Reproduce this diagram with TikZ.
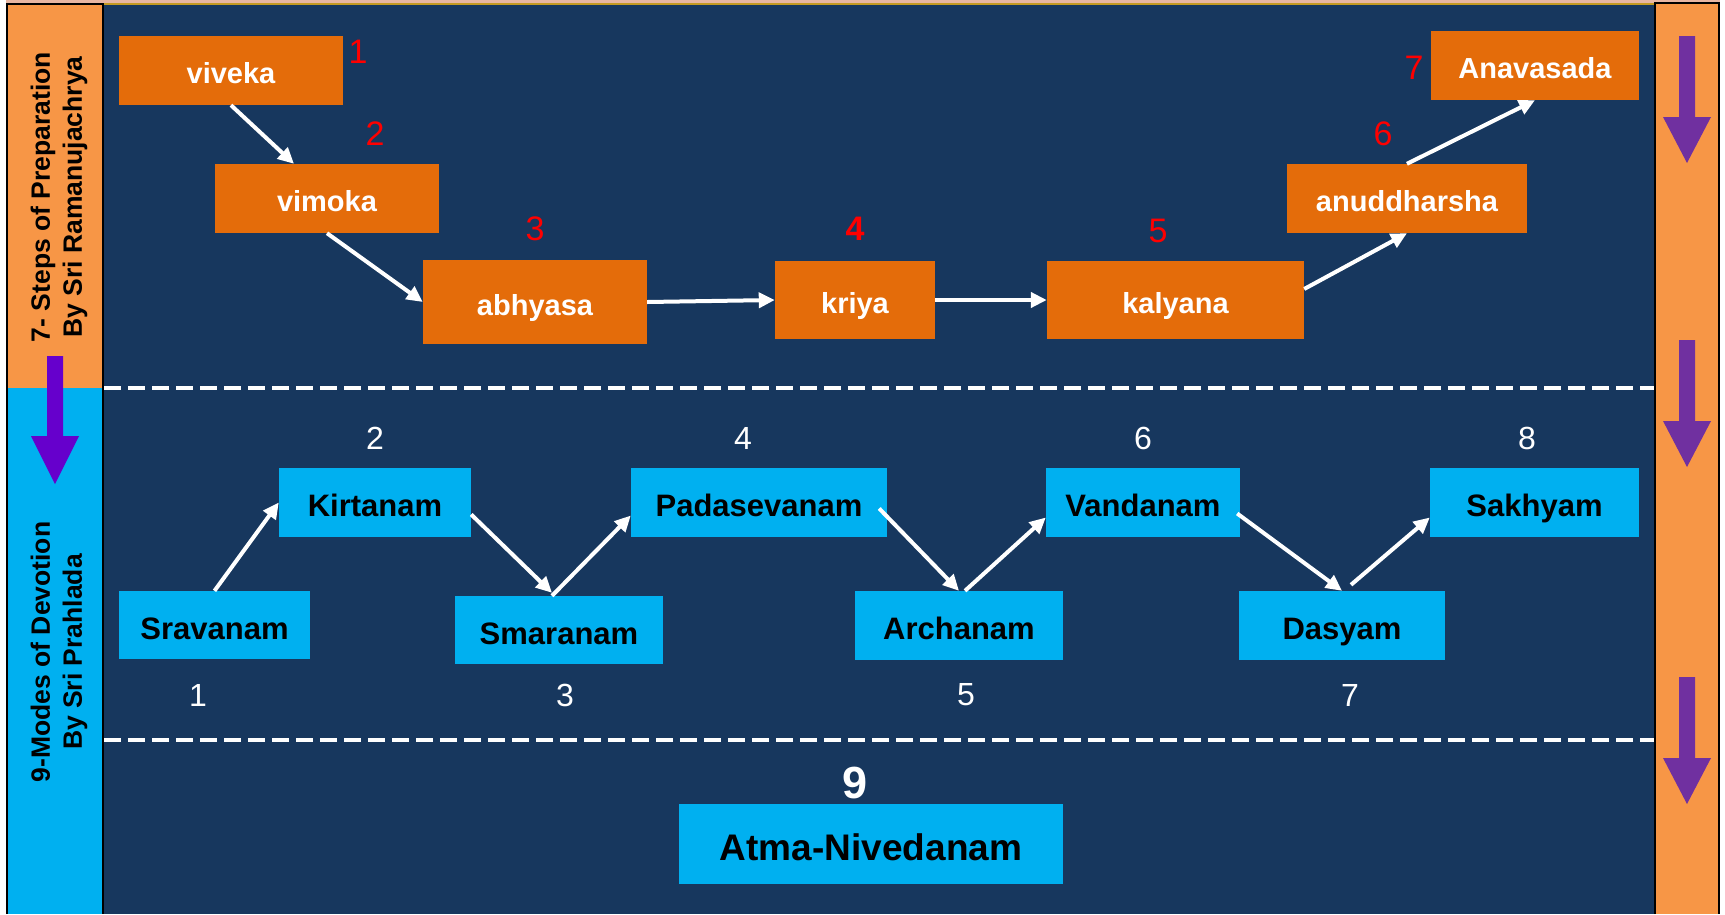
\documentclass[tikz,border=0pt]{standalone}
\usepackage{fontspec}
\setmainfont{Liberation Sans}
\usetikzlibrary{arrows.meta,calc}
\definecolor{navy}{HTML}{17375E}
\definecolor{boxorange}{HTML}{E46C0A}
\definecolor{panelorange}{HTML}{F79646}
\definecolor{panelblue}{HTML}{00B0F0}
\definecolor{rpurple}{HTML}{7030A0}
\definecolor{lpurple}{HTML}{6600CC}
\definecolor{toppink}{HTML}{E8B6A2}
\definecolor{goldline}{HTML}{C49A22}
\definecolor{numred}{HTML}{FF0000}
\begin{document}
\begin{tikzpicture}[x=1pt,y=-1pt,
  obox/.style={fill=boxorange, draw=none, inner sep=0pt, text=white,
    font=\fontsize{29}{34}\selectfont\bfseries, text height=26pt, text depth=0pt},
  bbox/.style={fill=panelblue, draw=none, inner sep=0pt, text=black,
    font=\fontsize{31}{36}\selectfont\bfseries, text height=28pt, text depth=0pt},
  rnum/.style={inner sep=0pt, text=numred, font=\fontsize{34}{40}\selectfont},
  wnum/.style={inner sep=0pt, text=white, font=\fontsize{32}{38}\selectfont},
  conn/.style={draw=white, line width=4pt, -{Triangle[length=16pt,width=15pt]}},
  sidetext/.style={rotate=90, align=center, inner sep=0pt, text=black,
    font=\fontsize{26.5}{32}\selectfont\bfseries},
  sep/.style={draw=white, line width=4.5pt, dash pattern=on 17pt off 7pt}
]
\useasboundingbox (0,0) rectangle (1725,914);
\fill[white] (0,0) rectangle (1725,914);
% main dark area
\fill[navy] (104,3) rectangle (1655,914);
\fill[toppink] (6,0) rectangle (1720,3);
\fill[goldline] (104,3) rectangle (1655,5);
% left panel
\fill[panelorange] (7,4) rectangle (103,388);
\fill[panelblue] (7,388) rectangle (103,914);
\draw[black, line width=2.5pt] (7,914) -- (7,4) -- (103,4) -- (103,914);
% right panel
\fill[panelorange] (1655,3) rectangle (1719,914);
\draw[black, line width=2.5pt] (1655,914) -- (1655,3) -- (1719,3) -- (1719,914);

% separators
\draw[sep] (104,388) -- (1654,388);
\draw[sep] (104,740) -- (1654,740);

% side texts
\node[sidetext] (prep) at (59,197) {7- Steps of Preparation\\By Sri Ramanujachrya};
\node[sidetext] (devo) at (59,652) {9-Modes of Devotion\\By Sri Prahlada};

% purple arrows
\fill[lpurple] (47,356) -- (63,356) -- (63,436) -- (79,436) -- (55,484) -- (31,436) -- (47,436) -- cycle;
\foreach \t in {36,340,677}{
  \fill[rpurple] (1679,\t) -- (1695,\t) -- (1695,\t+81) -- (1711,\t+81) -- (1687,\t+127) -- (1663,\t+81) -- (1679,\t+81) -- cycle;
}

% orange boxes
\node[obox, minimum width=224pt, minimum height=69pt] (viveka) at (231,70.5) {viveka};
\node[obox, minimum width=224pt, minimum height=69pt] (vimoka) at (327,198.5) {vimoka};
\node[obox, minimum width=224pt, minimum height=84pt] (abhyasa) at (535,302) {abhyasa};
\node[obox, minimum width=160pt, minimum height=78pt] (kriya) at (855,300) {kriya};
\node[obox, minimum width=257pt, minimum height=78pt] (kalyana) at (1175.5,300) {kalyana};
\node[obox, minimum width=240pt, minimum height=69pt] (anud) at (1407,198.5) {anuddharsha};
\node[obox, minimum width=208pt, minimum height=69pt] (anava) at (1535,65.5) {Anavasada};

% red numbers
\node[rnum] (r1) at (358,52) {1};
\node[rnum] (r2) at (375,134) {2};
\node[rnum] (r3) at (535,229) {3};
\node[rnum, font=\fontsize{34}{40}\selectfont\bfseries] (r4) at (855,229) {4};
\node[rnum] (r5) at (1158,231) {5};
\node[rnum] (r6) at (1383,134) {6};
\node[rnum] (r7) at (1414,68) {7};

% orange connectors
\draw[conn] (viveka.south) -- ($(vimoka.north)+(-33,0)$);
\draw[conn] (vimoka.south) -- (abhyasa.west);
\draw[conn] (abhyasa.east) -- (kriya.west);
\draw[conn] (kriya.east) -- (kalyana.west);
\draw[conn] ($(kalyana.east)+(0,-11)$) -- (anud.south);
\draw[conn] (anud.north) -- (anava.south);

% blue boxes
\node[bbox, minimum width=191pt, minimum height=68pt] (srav) at (214.5,625) {Sravanam};
\node[bbox, minimum width=192pt, minimum height=69pt] (kirt) at (375,502.5) {Kirtanam};
\node[bbox, minimum width=208pt, minimum height=68pt] (smar) at (559,630) {Smaranam};
\node[bbox, minimum width=256pt, minimum height=69pt] (pada) at (759,502.5) {Padasevanam};
\node[bbox, minimum width=208pt, minimum height=69pt] (arch) at (959,625.5) {Archanam};
\node[bbox, minimum width=194pt, minimum height=69pt] (vand) at (1143,502.5) {Vandanam};
\node[bbox, minimum width=206pt, minimum height=69pt] (dasy) at (1342,625.5) {Dasyam};
\node[bbox, minimum width=209pt, minimum height=69pt] (sakh) at (1534.5,502.5) {Sakhyam};
\node[bbox, minimum width=384pt, minimum height=80pt, font=\fontsize{37}{42}\selectfont\bfseries, text height=33pt] (atma) at (871,844) {Atma-Nivedanam};

% white numbers
\node[wnum] (w1) at (198,695) {1};
\node[wnum] (w2) at (375,438) {2};
\node[wnum] (w3) at (565,695) {3};
\node[wnum] (w4) at (743,438) {4};
\node[wnum] (w5) at (966,695) {5};
\node[wnum] (w6) at (1143,438) {6};
\node[wnum] (w7) at (1350,695) {7};
\node[wnum] (w8) at (1527,438) {8};
\node[wnum, font=\fontsize{45}{50}\selectfont\bfseries] (w9) at (855,783) {9};

% blue connectors
\draw[conn] (srav.north) -- (kirt.west);
\draw[conn] ($(kirt.east)+(0,12)$) -- ($(smar.north)+(-7,-3)$);
\draw[conn] ($(smar.north)+(-7,0)$) -- ($(pada.west)+(0,13)$);
\draw[conn] ($(pada.east)+(-8,6)$) -- (arch.north);
\draw[conn] ($(arch.north)+(6,0)$) -- ($(vand.west)+(0,15)$);
\draw[conn] ($(vand.east)+(-3,11)$) -- (dasy.north);
\draw[conn] ($(dasy.north)+(9,-6)$) -- ($(sakh.west)+(0,15)$);
\end{tikzpicture}
\end{document}
